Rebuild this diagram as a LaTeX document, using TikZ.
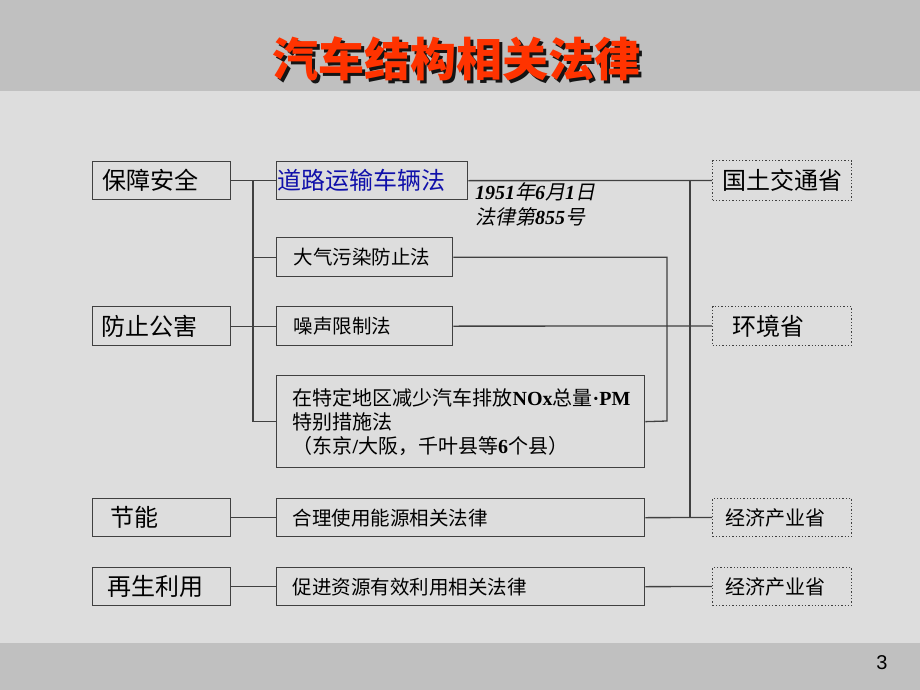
\documentclass[tikz,border=0pt]{standalone}
\usepackage{fontspec}
\setmainfont{Noto Sans CJK SC}
\newfontfamily\tms{Liberation Serif}
\newfontfamily\cjkit[FakeSlant=0.2]{Noto Sans CJK SC}
\newfontfamily\pgnum{Liberation Sans}
\definecolor{bandc}{RGB}{192,192,192}
\definecolor{mainc}{RGB}{221,221,221}
\definecolor{linec}{RGB}{64,64,64}
\definecolor{titlec}{RGB}{255,51,0}
\definecolor{shadowc}{RGB}{20,20,20}
\definecolor{lawblue}{RGB}{16,16,170}
\tikzset{
  box/.style={draw=linec, line width=1.3pt, inner ysep=0pt, anchor=north west, align=left, text=black},
  dotbox/.style={box, dotted, line width=1pt},
  conn/.style={draw=linec, line width=1.3pt},
  big/.style={font=\fontsize{24}{28}\selectfont},
  mid/.style={font=\fontsize{19.5}{24}\selectfont},
}
\newcommand{\titletext}{汽车结构相关法律}
\begin{document}
\begin{tikzpicture}[x=1pt,y=-1pt]
\useasboundingbox (0,0) rectangle (920,690);
\fill[bandc] (0,0) rectangle (920,91);
\fill[mainc] (0,91) rectangle (920,643);
\fill[bandc] (0,643) rectangle (920,690);
% title with drop shadow
\node[font=\fontsize{46}{52}\selectfont\bfseries, text=titlec] (title) at (456,60) {\makebox[0pt][l]{\hspace{3pt}\raisebox{-3pt}{\color{shadowc}\titletext}}\titletext};
% left column
\node[box, big, minimum width=138pt, minimum height=38pt, inner xsep=10pt, text width=118pt] (anquan) at (92,161) {保障安全};
\node[box, big, minimum width=138pt, minimum height=39pt, inner xsep=9pt, text width=120pt] (fangzhi) at (92,306) {防止公害};
\node[box, big, minimum width=138pt, minimum height=38pt, inner xsep=18pt, text width=102pt] (jieneng) at (92,498) {节能};
\node[box, big, minimum width=138pt, minimum height=38pt, inner xsep=15pt, text width=108pt] (zaisheng) at (92,567) {再生利用};
% laws
\node[box, big, text=lawblue, minimum width=191pt, minimum height=38pt, inner xsep=1pt, text width=189pt] (daolu) at (276,161) {道路运输车辆法};
\node[box, mid, minimum width=176pt, minimum height=39pt, inner xsep=17pt, text width=142pt] (daqi) at (276,237) {大气污染防止法};
\node[box, mid, minimum width=176pt, minimum height=39pt, inner xsep=17pt, text width=142pt] (zaosheng) at (276,306) {噪声限制法};
\node[box, font=\fontsize{20}{24}\selectfont, minimum width=368pt, minimum height=92pt, inner xsep=16pt, text width=336pt] (nox) at (276,375) {在特定地区减少汽车排放{\tms\bfseries NOx}总量{\tms\bfseries ·PM}\\特别措施法\\（东京{\tms\bfseries /}大阪，千叶县等{\tms\bfseries 6}个县）};
\node[box, mid, minimum width=368pt, minimum height=38pt, inner xsep=16pt, text width=336pt] (heli) at (276,498) {合理使用能源相关法律};
\node[box, mid, minimum width=368pt, minimum height=38pt, inner xsep=16pt, text width=336pt] (cujin) at (276,567) {促进资源有效利用相关法律};
% date note
\node[anchor=north west, align=left, inner sep=0pt, font=\fontsize{20}{25}\selectfont] (date) at (475,182) {{\tms\bfseries\itshape 1951}{\cjkit 年}{\tms\bfseries\itshape 6}{\cjkit 月}{\tms\bfseries\itshape 1}{\cjkit 日}\\{\cjkit 法律第}{\tms\bfseries\itshape 855}{\cjkit 号}};
% ministries
\node[dotbox, big, minimum width=139pt, minimum height=40pt, inner xsep=10pt, text width=119pt] (guotu) at (712,160) {国土交通省};
\node[dotbox, big, minimum width=139pt, minimum height=39pt, inner xsep=20pt, text width=99pt] (huanjing) at (712,306) {环境省};
\node[dotbox, font=\fontsize{20}{24}\selectfont, minimum width=139pt, minimum height=38pt, inner xsep=13pt, text width=113pt] (jingjiA) at (712,498) {经济产业省};
\node[dotbox, font=\fontsize{20}{24}\selectfont, minimum width=139pt, minimum height=38pt, inner xsep=13pt, text width=113pt] (jingjiB) at (712,567) {经济产业省};
% page number
\node[font=\pgnum\fontsize{20}{24}\selectfont] (pagenum) at (882,663) {3};
% connectors
\coordinate (ja) at (253,180);
\coordinate (jb) at (690,180);
\coordinate (jc) at (667,421);
\draw[conn] (anquan.east) -- (daolu.west);
\draw[conn] (ja) |- (nox.west);
\draw[conn] (daqi.west) -- (daqi.west -| ja);
\draw[conn] (fangzhi.east) -- (zaosheng.west);
\draw[conn] (daolu.east) -- (guotu.west);
\draw[conn] (jb) -- (jb |- heli.east);
\draw[conn] (daqi.east) -| (jc) -- (nox.east);
\draw[conn] (zaosheng.east) -- (huanjing.west);
\draw[conn] (heli.east) -- (jingjiA.west);
\draw[conn] (jieneng.east) -- (heli.west);
\draw[conn] (zaisheng.east) -- (cujin.west);
\draw[conn] (cujin.east) -- (jingjiB.west);
\end{tikzpicture}
\end{document}
